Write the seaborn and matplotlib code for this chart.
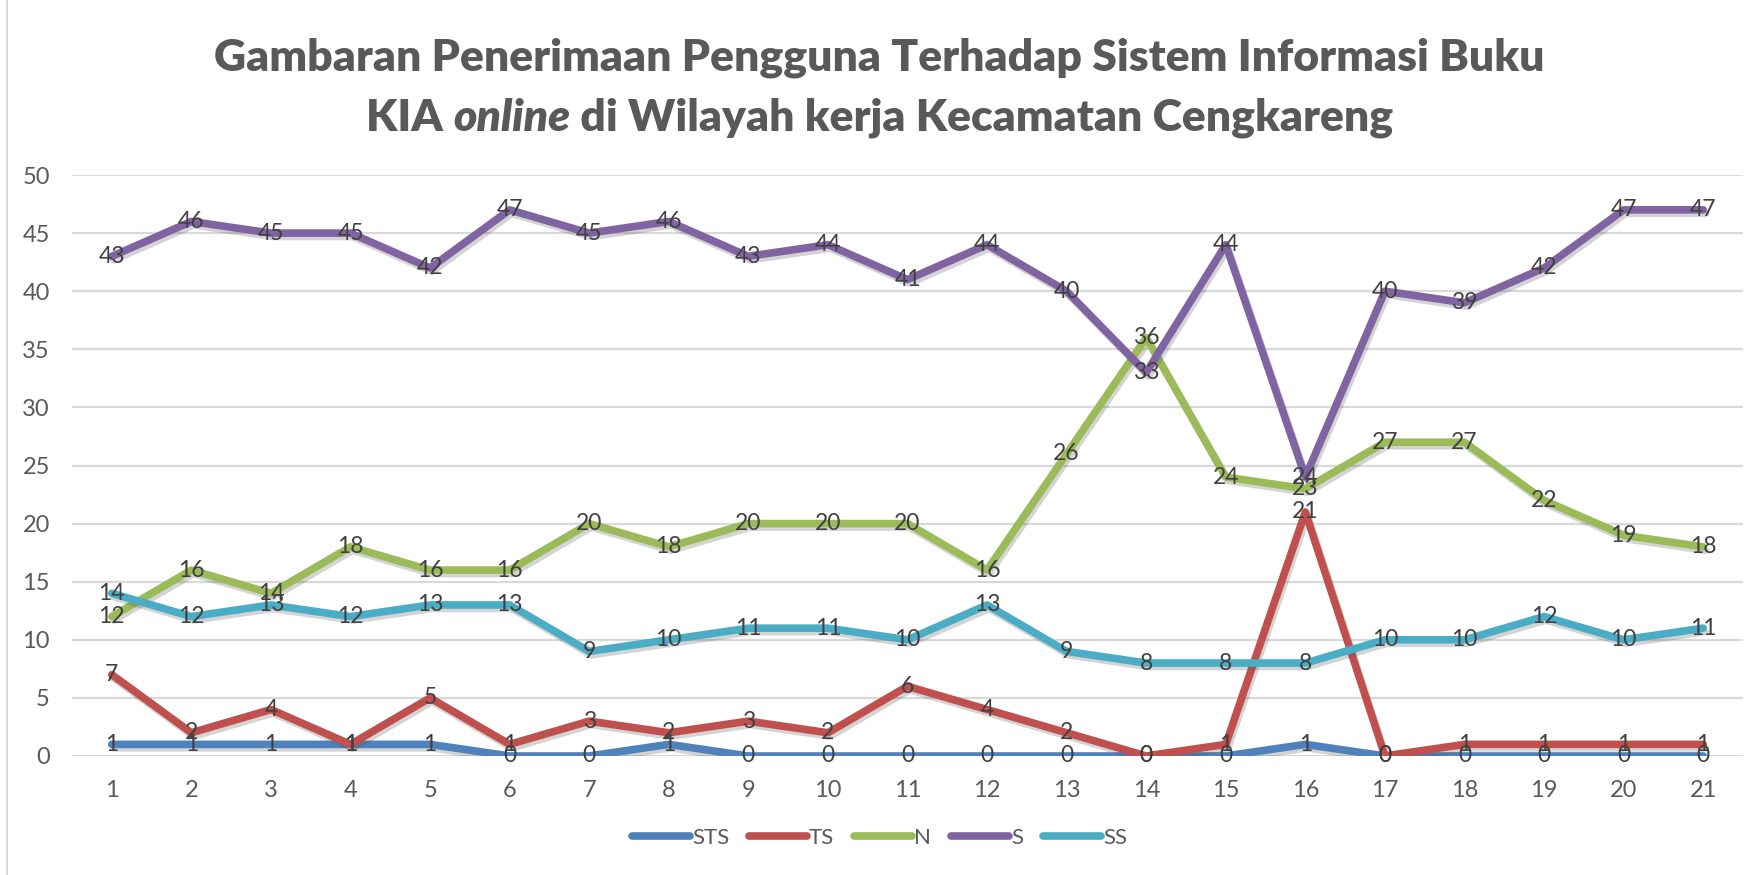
import numpy as np
import pandas as pd
import matplotlib
matplotlib.use("Agg")
import matplotlib.pyplot as plt
import matplotlib.patheffects as pe
from matplotlib.lines import Line2D
import seaborn as sns

sns.set_style("white")
plt.rcParams['font.family'] = ['Lato', 'DejaVu Sans']

# data
responden = list(range(1, 22))
kategori = ['STS', 'TS', 'N', 'S', 'SS']
sts = [1, 1, 1, 1, 1, 0, 0, 1, 0, 0, 0, 0, 0, 0, 0, 1, 0, 0, 0, 0, 0]
ts = [7, 2, 4, 1, 5, 1, 3, 2, 3, 2, 6, 4, 2, 0, 1, 21, 0, 1, 1, 1, 1]
n = [12, 16, 14, 18, 16, 16, 20, 18, 20, 20, 20, 16, 26, 36, 24, 23, 27, 27, 22, 19, 18]
s = [43, 46, 45, 45, 42, 47, 45, 46, 43, 44, 41, 44, 40, 33, 44, 24, 40, 39, 42, 47, 47]
ss = [14, 12, 13, 12, 13, 13, 9, 10, 11, 11, 10, 13, 9, 8, 8, 8, 10, 10, 12, 10, 11]
warna = ['#4F81BD', '#C0504D', '#9BBB59', '#8064A2', '#4BACC6']

series = dict(zip(kategori, [sts, ts, n, s, ss]))
df = pd.concat([pd.DataFrame({'x': responden, 'nilai': v, 'kategori': k})
                for k, v in series.items()], ignore_index=True)

fig = plt.figure(figsize=(17.59, 8.75), dpi=100)
ax = fig.add_axes([72 / 1759, 1 - 756 / 875, (1743 - 72) / 1759, (756 - 175) / 875])

shadow = [pe.SimpleLineShadow(offset=(1.5, -2.5), alpha=0.25, shadow_color='#555555'), pe.Normal()]
sns.lineplot(data=df, x='x', y='nilai', hue='kategori', palette=warna, linewidth=5.5,
             ax=ax, legend=False, sort=False, zorder=3)
for line in ax.get_lines():
    line.set_path_effects(shadow)
    line.set_solid_joinstyle('round')
    line.set_solid_capstyle('round')

for k, v in series.items():
    for xi, yi in zip(responden, v):
        ax.text(xi, yi, str(yi), ha='center', va='center', fontsize=16.5,
                color='#404040', zorder=5)

ax.set_xlim(0.5, 21.5)
ax.set_ylim(0, 50)
ax.set_yticks(range(0, 51, 5))
ax.set_xticks(responden)
ax.yaxis.grid(True, color='#D9D9D9', linewidth=1.6, zorder=0)
ax.set_axisbelow(True)
ax.tick_params(axis='both', length=0, labelsize=17, labelcolor='#595959')
ax.tick_params(axis='y', pad=16)
ax.tick_params(axis='x', pad=17)
ax.set_xlabel('')
ax.set_ylabel('')
sns.despine(ax=ax, left=True, bottom=True)

handles = [Line2D([0], [0], color=c, linewidth=5.5, solid_capstyle='round') for c in warna]
fig.legend(handles, kategori, loc='center', bbox_to_anchor=(0.5, 0.042), ncol=5,
           frameon=False, fontsize=16, handlelength=2.6, handletextpad=0.1,
           columnspacing=0.9, labelcolor='#595959')

# left border of the chart area
fig.add_artist(Line2D([7 / 1759, 7 / 1759], [0, 1], color='#D9D9D9', linewidth=1.5))

# title, second line has the italic word
judul_kw = dict(fontsize=32, fontweight='heavy', color='#595959')
fig.text(0.5, 1 - 58 / 875, 'Gambaran Penerimaan Pengguna Terhadap Sistem Informasi Buku',
         ha='center', va='center', **judul_kw)
bagian = [('KIA ', 'normal'), ('online', 'italic'), (' di Wilayah kerja Kecamatan Cengkareng', 'normal')]
r = fig.canvas.get_renderer()
teks = [fig.text(0, 1 - 118 / 875, t, va='center', style=st, **judul_kw) for t, st in bagian]
lebar = [t.get_window_extent(r).width for t in teks]
x = (1759 - sum(lebar)) / 2
for t, w in zip(teks, lebar):
    t.set_x(x / 1759)
    x += w

fig.savefig('out.png', dpi=100)
